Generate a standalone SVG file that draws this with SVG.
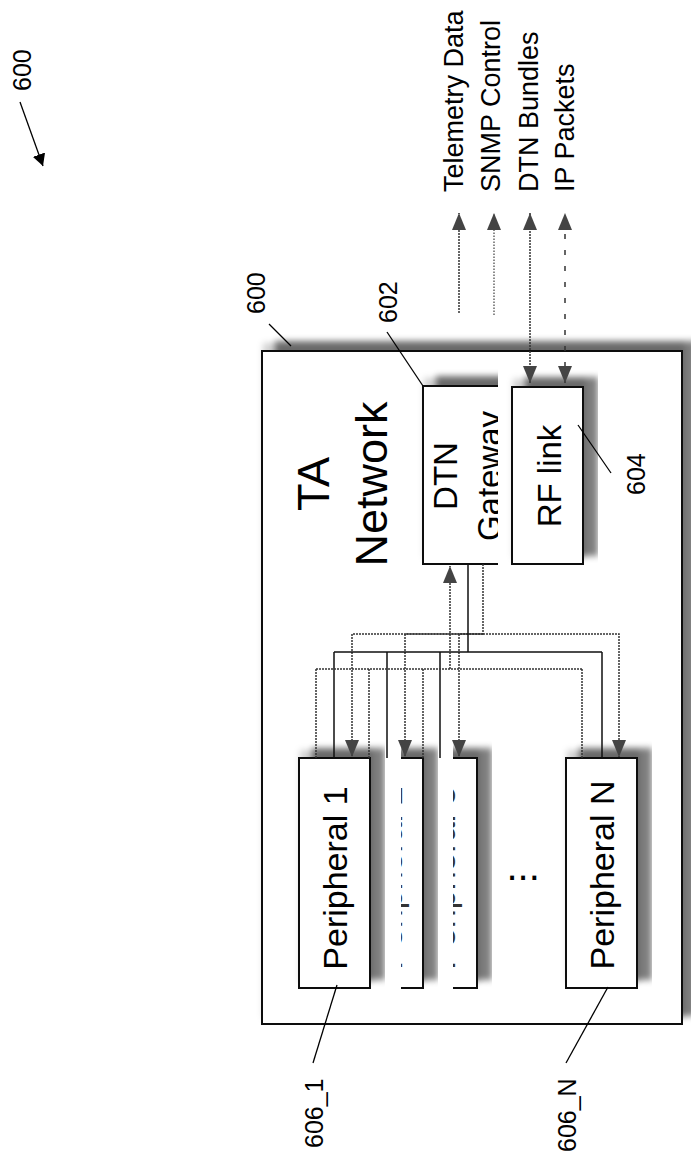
<svg xmlns="http://www.w3.org/2000/svg" width="691" height="1158" viewBox="0 0 691 1158">
<style>
text{font-family:"Liberation Sans",Arial,sans-serif;fill:#000}
.box{fill:#fff;stroke:#111;stroke-width:2}
.big{font-size:45px}
.mid{font-size:33px}
.per{font-size:34px}
.ghost{font-size:34px;fill:#333}
.lab{font-size:27px}
.ref{font-size:25px}
.lead{stroke:#000;stroke-width:1.3;fill:none}
.solid{stroke:#111;stroke-width:1.5;fill:none}
.dot{stroke:#333;stroke-width:1.5;stroke-dasharray:2 1;fill:none}
.dotl{stroke:#666;stroke-width:1.5;stroke-dasharray:1.5 1.5;fill:none}
.dash{stroke:#333;stroke-width:1.5;stroke-dasharray:5 11;fill:none}
</style>
<defs>
<filter id="sh" x="-10%" y="-15%" width="130%" height="130%">
<feOffset in="SourceAlpha" dx="14" dy="-9" result="o1"/>
<feGaussianBlur in="o1" stdDeviation="3" result="b1"/>
<feFlood flood-color="#000" flood-opacity="0.5"/>
<feComposite in2="b1" operator="in" result="s1"/>
<feOffset in="SourceAlpha" dx="2" dy="-7" result="o2"/>
<feGaussianBlur in="o2" stdDeviation="3" result="b2"/>
<feFlood flood-color="#000" flood-opacity="0.18"/>
<feComposite in2="b2" operator="in" result="s2"/>
<feMerge><feMergeNode in="s2"/><feMergeNode in="s1"/><feMergeNode in="SourceGraphic"/></feMerge>
</filter>
<clipPath id="cGw"><rect x="400" y="360" width="98" height="220"/></clipPath>
<clipPath id="cP2"><rect x="401" y="730" width="60" height="280"/></clipPath>
<clipPath id="cP3"><rect x="453" y="730" width="60" height="280"/></clipPath>
<marker id="ah" viewBox="0 0 17 14" refX="17" refY="7" markerWidth="17" markerHeight="14" markerUnits="userSpaceOnUse" orient="auto-start-reverse"><path d="M0,0 L17,7 L0,14 Z" fill="#444"/></marker>
<marker id="ahb" viewBox="0 0 12 13" refX="12" refY="6.5" markerWidth="12" markerHeight="13" markerUnits="userSpaceOnUse" orient="auto"><path d="M0,0 L12,6.5 L0,13 Z" fill="#000"/></marker>
</defs>

<g id="fig-ref">
<text class="ref" font-size="26" transform="translate(31,91) rotate(-90)">600</text>
<line class="lead" x1="20" y1="102" x2="43" y2="166" marker-end="url(#ahb)"/>
</g>

<g id="ta-network">
<rect class="box" x="262" y="351" width="420" height="673" filter="url(#sh)"/>
<text class="big" text-anchor="middle" transform="translate(329,484) rotate(-90)">TA</text>
<text class="big" text-anchor="middle" transform="translate(387,484) rotate(-90)">Network</text>
</g>

<g id="dtn-gateway" clip-path="url(#cGw)">
<rect class="box" x="423" y="386" width="120" height="178" filter="url(#sh)"/>
<text class="mid" text-anchor="middle" transform="translate(457,476) rotate(-90)">DTN</text>
<text class="mid" text-anchor="middle" transform="translate(501,476) rotate(-90)">Gateway</text>
</g>

<g id="rf-link">
<rect class="box" x="512" y="387" width="71" height="177" filter="url(#sh)"/>
<text class="mid" text-anchor="middle" transform="translate(561,476) rotate(-90)">RF link</text>
</g>

<g id="peripheral-3" clip-path="url(#cP3)">
<rect class="box" x="406" y="758" width="71" height="230" filter="url(#sh)"/>
<text class="ghost" text-anchor="middle" transform="translate(454.5,878) rotate(-90)">Peripheral 3</text>
</g>

<g id="peripheral-2" clip-path="url(#cP2)">
<rect class="box" x="352" y="758" width="71" height="230" filter="url(#sh)"/>
<text class="ghost" text-anchor="middle" transform="translate(402,878) rotate(-90)">Peripheral 2</text>
</g>

<g id="peripheral-1">
<rect class="box" x="299" y="758" width="71" height="230" filter="url(#sh)"/>
<text class="per" text-anchor="middle" transform="translate(347,878) rotate(-90)">Peripheral 1</text>
</g>

<g id="peripheral-n">
<rect class="box" x="566" y="758" width="71" height="230" filter="url(#sh)"/>
<text class="per" text-anchor="middle" transform="translate(614,875) rotate(-90)">Peripheral N</text>
</g>

<g id="ellipsis">
<text font-size="40" x="506.5" y="880">...</text>
</g>

<g id="connectors">
<line class="dot" x1="459" y1="313" x2="459" y2="213" marker-end="url(#ah)"/>
<line class="dotl" x1="494" y1="315" x2="494" y2="213" marker-end="url(#ah)"/>
<line class="dot" x1="530" y1="383" x2="530" y2="213" marker-start="url(#ah)" marker-end="url(#ah)"/>
<line class="dash" x1="565" y1="383" x2="565" y2="213" marker-start="url(#ah)" marker-end="url(#ah)"/>

<path class="dot" d="M483,564 V634 H352 V757" marker-end="url(#ah)"/>
<path class="dot" d="M483,634 H405 V757" marker-end="url(#ah)"/>
<path class="dot" d="M483,634 H459 V757" marker-end="url(#ah)"/>
<path class="dot" d="M483,634 H619 V757" marker-end="url(#ah)"/>

<path class="solid" d="M468,564 V652 M334,652 H602 M334,652 V758 M387,652 V758 M440,652 V758 M602,652 V758"/>

<path class="dot" d="M450,669 V566" marker-end="url(#ah)"/>
<path class="dot" d="M316,669 H582 M316,669 V758 M369,669 V758 M423,669 V758 M582,669 V758"/>
</g>

<g id="labels">
<text class="lab" transform="translate(462.5,192) rotate(-90)">Telemetry Data</text>
<text class="lab" transform="translate(500,192) rotate(-90)">SNMP Control</text>
<text class="lab" transform="translate(538,192) rotate(-90)">DTN Bundles</text>
<text class="lab" transform="translate(574,192) rotate(-90)">IP Packets</text>

<text class="ref" transform="translate(265,314) rotate(-90)">600</text>
<line class="lead" x1="269" y1="324" x2="291" y2="346"/>
<text class="ref" transform="translate(397,323) rotate(-90)">602</text>
<line class="lead" x1="387" y1="332" x2="423" y2="386"/>
<text class="ref" transform="translate(645,495) rotate(-90)">604</text>
<line class="lead" x1="578" y1="425" x2="611" y2="473"/>
<text class="ref" transform="translate(323,1148) rotate(-90)">606_1</text>
<line class="lead" x1="313" y1="1063" x2="337" y2="985"/>
<text class="ref" font-size="26" transform="translate(576,1152) rotate(-90)">606_N</text>
<line class="lead" x1="566" y1="1063" x2="608" y2="987"/>
</g>
</svg>
